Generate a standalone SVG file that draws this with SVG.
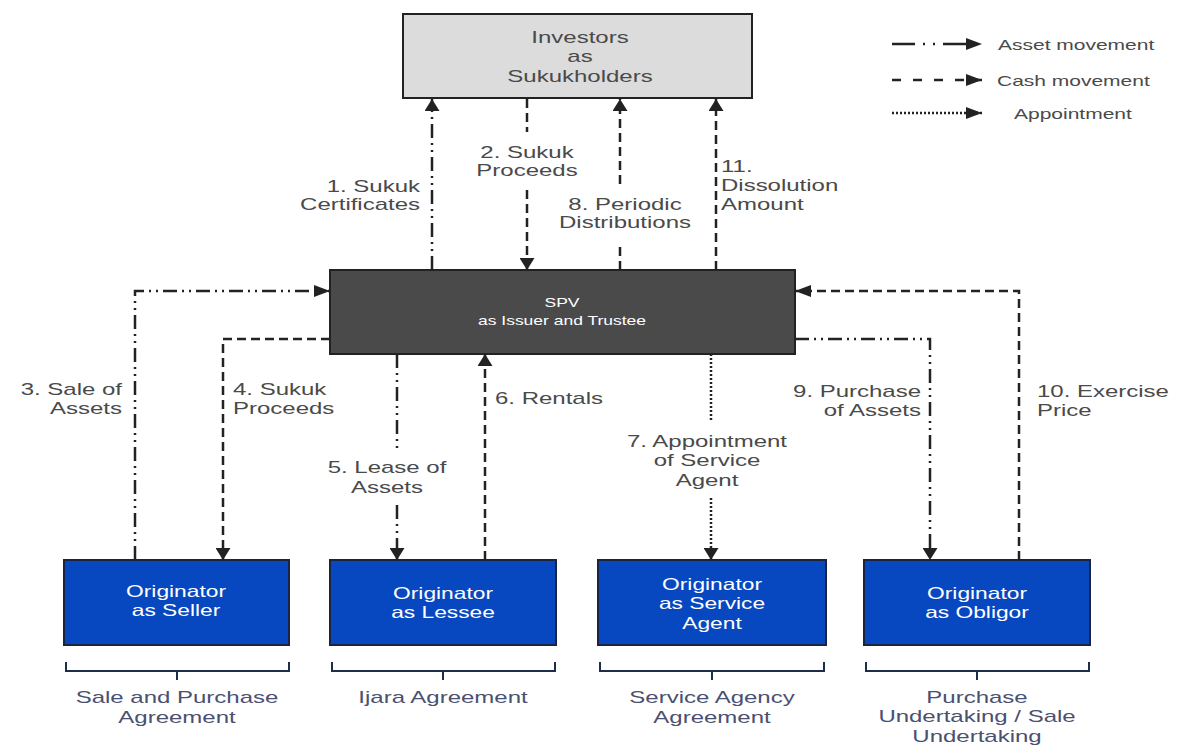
<svg xmlns="http://www.w3.org/2000/svg" width="1177" height="753" viewBox="0 0 1177 753">
<style>
.lbl{font-family:"Liberation Sans",Arial,sans-serif;font-size:16px;fill:#4a4a4a}
.lgd{font-family:"Liberation Sans",Arial,sans-serif;font-size:14px;fill:#4a4a4a}
.agr{font-family:"Liberation Sans",Arial,sans-serif;font-size:16px;fill:#4b5070}
.wht{font-family:"Liberation Sans",Arial,sans-serif;font-size:16.5px;fill:#ffffff}
.spvt{font-family:"Liberation Sans",Arial,sans-serif;font-size:12.5px;fill:#ffffff}
.blue{fill:#0747bf;stroke:#1a2440;stroke-width:2}
.ln{fill:none;stroke:#222;stroke-width:2.5}
.asset{stroke-dasharray:14 5 2 5 2 5}
.cash{stroke-dasharray:9 5}
.dot{stroke-dasharray:2 2}
.brace{fill:none;stroke:#1f2d4d;stroke-width:2}
</style>
<defs>
<marker id="arrV" markerUnits="userSpaceOnUse" markerWidth="13" markerHeight="15" refX="12" refY="7.5" orient="auto">
<path d="M0,0 L12,7.5 L0,15 Z" fill="#222"/>
</marker>
<marker id="arrH" markerUnits="userSpaceOnUse" markerWidth="17" markerHeight="12" refX="16" refY="6" orient="auto">
<path d="M0,0 L16,6 L0,12 Z" fill="#222"/>
</marker>
</defs>
<rect width="1177" height="753" fill="#ffffff"/>

<g id="investors">
<rect x="403" y="14" width="349" height="84" fill="#dcdcdc" stroke="#222" stroke-width="2"/>
<text class="lbl" font-size="16.5" text-anchor="middle" transform="translate(580,43) scale(1.5,1)"><tspan x="0">Investors</tspan><tspan x="0" dy="19.5">as</tspan><tspan x="0" dy="19.5">Sukukholders</tspan></text>
</g>

<g id="spv">
<rect x="330" y="270" width="465" height="84" fill="#4a4a4a" stroke="#222" stroke-width="2"/>
<text class="spvt" text-anchor="middle" transform="translate(562,307) scale(1.4,1)"><tspan x="0">SPV</tspan><tspan x="0" dy="18">as Issuer and Trustee</tspan></text>
</g>

<g id="seller">
<rect class="blue" x="64" y="560" width="225" height="85"/>
<text class="wht" text-anchor="middle" transform="translate(176,597) scale(1.38,1)"><tspan x="0">Originator</tspan><tspan x="0" dy="19">as Seller</tspan></text>
</g>
<g id="lessee">
<rect class="blue" x="330" y="560" width="226" height="85"/>
<text class="wht" text-anchor="middle" transform="translate(443,599) scale(1.38,1)"><tspan x="0">Originator</tspan><tspan x="0" dy="19">as Lessee</tspan></text>
</g>
<g id="serviceagent">
<rect class="blue" x="598" y="560" width="228" height="85"/>
<text class="wht" text-anchor="middle" transform="translate(712,590) scale(1.38,1)"><tspan x="0">Originator</tspan><tspan x="0" dy="19.5">as Service</tspan><tspan x="0" dy="19.5">Agent</tspan></text>
</g>
<g id="obligor">
<rect class="blue" x="864" y="560" width="226" height="85"/>
<text class="wht" text-anchor="middle" transform="translate(977,599) scale(1.38,1)"><tspan x="0">Originator</tspan><tspan x="0" dy="19">as Obligor</tspan></text>
</g>

<g id="agreements">
<path class="brace" d="M66,662 V671 H289 V662 M177,671 V680"/>
<path class="brace" d="M332,662 V671 H555 V662 M443,671 V680"/>
<path class="brace" d="M600,662 V671 H824 V662 M712,671 V680"/>
<path class="brace" d="M866,662 V671 H1089 V662 M977,671 V680"/>
<text class="agr" text-anchor="middle" transform="translate(177,703) scale(1.5,1)"><tspan x="0">Sale and Purchase</tspan><tspan x="0" dy="20">Agreement</tspan></text>
<text class="agr" text-anchor="middle" transform="translate(443,703) scale(1.5,1)"><tspan x="0">Ijara Agreement</tspan></text>
<text class="agr" text-anchor="middle" transform="translate(712,703) scale(1.5,1)"><tspan x="0">Service Agency</tspan><tspan x="0" dy="20">Agreement</tspan></text>
<text class="agr" text-anchor="middle" transform="translate(977,703) scale(1.5,1)"><tspan x="0">Purchase</tspan><tspan x="0" dy="19.5">Undertaking / Sale</tspan><tspan x="0" dy="19.5">Undertaking</tspan></text>
</g>

<g id="connectors">
<path class="ln asset" d="M432,270 V99" marker-end="url(#arrV)"/>
<path class="ln cash" d="M527,99 V132"/>
<path class="ln cash" d="M527,190 V270" marker-end="url(#arrV)"/>
<path class="ln cash" d="M620,270 V245"/>
<path class="ln cash" d="M620,184 V99" marker-end="url(#arrV)"/>
<path class="ln cash" d="M716,270 V99" marker-end="url(#arrV)"/>
<path class="ln asset" d="M135,560 V291 H330" marker-end="url(#arrH)"/>
<path class="ln cash" d="M330,339 H223 V560" marker-end="url(#arrV)"/>
<path class="ln asset" d="M397,354 V450"/>
<path class="ln asset" d="M397,505 V560" marker-end="url(#arrV)"/>
<path class="ln cash" d="M485,560 V354" marker-end="url(#arrV)"/>
<path class="ln dot" d="M711,354 V422"/>
<path class="ln dot" d="M711,498 V560" marker-end="url(#arrV)"/>
<path class="ln asset" d="M795,339 H930 V560" marker-end="url(#arrV)"/>
<path class="ln cash" d="M1019,560 V291 H795" marker-end="url(#arrH)"/>
</g>

<g id="connector-labels">
<text class="lbl" text-anchor="end" transform="translate(420,192) scale(1.5,1)"><tspan x="0">1. Sukuk</tspan><tspan x="0" dy="18.5">Certificates</tspan></text>
<text class="lbl" text-anchor="middle" transform="translate(527,158) scale(1.5,1)"><tspan x="0">2. Sukuk</tspan><tspan x="0" dy="18.5">Proceeds</tspan></text>
<text class="lbl" text-anchor="middle" transform="translate(625,210) scale(1.5,1)"><tspan x="0">8. Periodic</tspan><tspan x="0" dy="18.5">Distributions</tspan></text>
<text class="lbl" text-anchor="start" transform="translate(721,172) scale(1.5,1)"><tspan x="0">11.</tspan><tspan x="0" dy="19">Dissolution</tspan><tspan x="0" dy="19">Amount</tspan></text>
<text class="lbl" text-anchor="end" transform="translate(122,395) scale(1.5,1)"><tspan x="0">3. Sale of</tspan><tspan x="0" dy="19">Assets</tspan></text>
<text class="lbl" text-anchor="start" transform="translate(233,395) scale(1.5,1)"><tspan x="0">4. Sukuk</tspan><tspan x="0" dy="19">Proceeds</tspan></text>
<text class="lbl" text-anchor="middle" transform="translate(387,473) scale(1.5,1)"><tspan x="0">5. Lease of</tspan><tspan x="0" dy="20">Assets</tspan></text>
<text class="lbl" text-anchor="start" transform="translate(495,404) scale(1.5,1)"><tspan x="0">6. Rentals</tspan></text>
<text class="lbl" text-anchor="middle" transform="translate(707,447) scale(1.5,1)"><tspan x="0">7. Appointment</tspan><tspan x="0" dy="19.5">of Service</tspan><tspan x="0" dy="19.5">Agent</tspan></text>
<text class="lbl" text-anchor="end" transform="translate(921,397) scale(1.5,1)"><tspan x="0">9. Purchase</tspan><tspan x="0" dy="19">of Assets</tspan></text>
<text class="lbl" text-anchor="start" transform="translate(1037,397) scale(1.5,1)"><tspan x="0">10. Exercise</tspan><tspan x="0" dy="19">Price</tspan></text>
</g>

<g id="legend">
<path class="ln" stroke-width="2.2" stroke-dasharray="23 8 2 8 2 8" d="M892,44 H982" marker-end="url(#arrH)"/>
<path class="ln" stroke-width="2.2" stroke-dasharray="9 12" d="M892,80 H982" marker-end="url(#arrH)"/>
<path class="ln" stroke-width="2" stroke-dasharray="2 2" d="M892,113 H982" marker-end="url(#arrH)"/>
<text class="lgd" transform="translate(998,50) scale(1.5,1)">Asset movement</text>
<text class="lgd" transform="translate(997,86) scale(1.5,1)">Cash movement</text>
<text class="lgd" transform="translate(1014,119) scale(1.5,1)">Appointment</text>
</g>
</svg>
